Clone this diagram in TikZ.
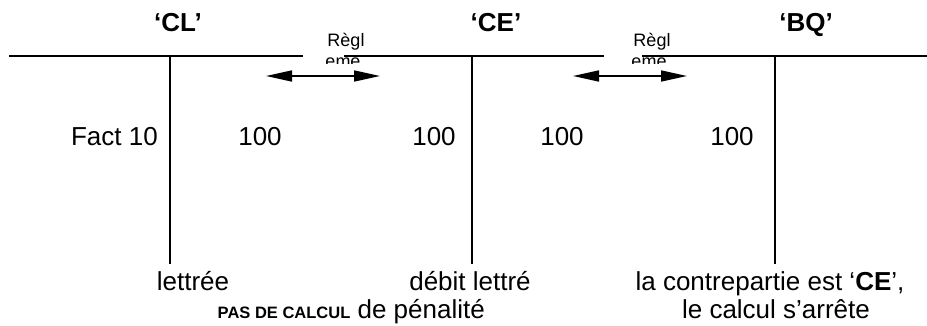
\documentclass[tikz,border=0pt]{standalone}
\usepackage{fontspec}
\setmainfont{Liberation Sans}
\usetikzlibrary{positioning, arrows.meta}

\begin{document}
\begin{tikzpicture}[
	x=1pt, y=-1pt,
	title/.style={
		font=\fontsize{26}{30}\selectfont\bfseries,
		anchor=base,
		inner sep=0pt
	},
	amount/.style={
		font=\fontsize{26}{30}\selectfont,
		anchor=base,
		inner sep=0pt
	},
	remark/.style={
		font=\fontsize{26}{30}\selectfont,
		anchor=base,
		inner sep=0pt
	},
	smalllabel/.style={
		font=\fontsize{18}{20}\selectfont,
		anchor=base,
		inner sep=0pt
	},
	tline/.style={line width=2.4pt},
	arrow/.style={{Triangle[length=26pt,width=11pt]}-{Triangle[length=26pt,width=11pt]}, line width=1.6pt}
	]
	\useasboundingbox (0,0) rectangle (927,326);

	% ======================
	% Titles
	% ======================
	\node (cl) [title] at (178,32) {‘CL’};
	\node (ce) [title] at (496,32) {‘CE’};
	\node (bq) [title] at (806,32) {‘BQ’};

	% ======================
	% T accounts
	% ======================
	\coordinate (lineA) at (9,56);
	\coordinate (gapA) at (303,56);
	\coordinate (lineB) at (344,56);
	\coordinate (gapB) at (604,56);
	\coordinate (lineC) at (642,56);
	\coordinate (lineend) at (927,56);
	\draw[tline] (lineA) -- (gapA);
	\draw[tline] (lineB) -- (gapB);
	\draw[tline] (lineC) -- (lineend);

	\coordinate (cltop) at (170,56);
	\coordinate (clbot) at (170,264);
	\coordinate (cetop) at (472,56);
	\coordinate (cebot) at (472,264);
	\coordinate (bqtop) at (775,56);
	\coordinate (bqbot) at (775,264);
	\draw[tline] (cltop) -- (clbot);
	\draw[tline] (cetop) -- (cebot);
	\draw[tline] (bqtop) -- (bqbot);

	% ======================
	% Settlement labels
	% ======================
	\node (reglA) [smalllabel] at (346,47) {Règl};
	\node (reglB) [smalllabel] at (652,47) {Règl};
	\begin{scope}
		\clip (300,40) rectangle (700,64);
		\node (emeA) [smalllabel] at (343,68) {eme};
		\node (emeB) [smalllabel] at (649,68) {eme};
	\end{scope}

	\coordinate (arrAl) at (266,76);
	\coordinate (arrAr) at (380,76);
	\coordinate (arrBl) at (573,76);
	\coordinate (arrBr) at (687,76);
	\draw[arrow] (arrAl) -- (arrAr);
	\draw[arrow] (arrBl) -- (arrBr);

	% ======================
	% Amounts
	% ======================
	\node (fact) [amount, anchor=base east] at (158,146) {Fact 10};
	\node (clcr) [amount] at (260,146) {100};
	\node (cedb) [amount] at (434,146) {100};
	\node (cecr) [amount] at (562,146) {100};
	\node (bqdb) [amount] at (732,146) {100};

	% ======================
	% Comments
	% ======================
	\node (lettree) [remark] at (193,290) {lettrée};
	\node (debit) [remark] at (470,290) {débit lettré};
	\node (pascalc) [remark, anchor=base east] at (485,318)
		{{\fontsize{16.5}{18}\selectfont\bfseries PAS DE CALCUL} de pénalité};
	\node (contre) [remark] at (770,290) {la contrepartie est ‘\textbf{CE}’,};
	\node (arrete) [remark] at (776,318) {le calcul s’arrête};

\end{tikzpicture}
\end{document}
